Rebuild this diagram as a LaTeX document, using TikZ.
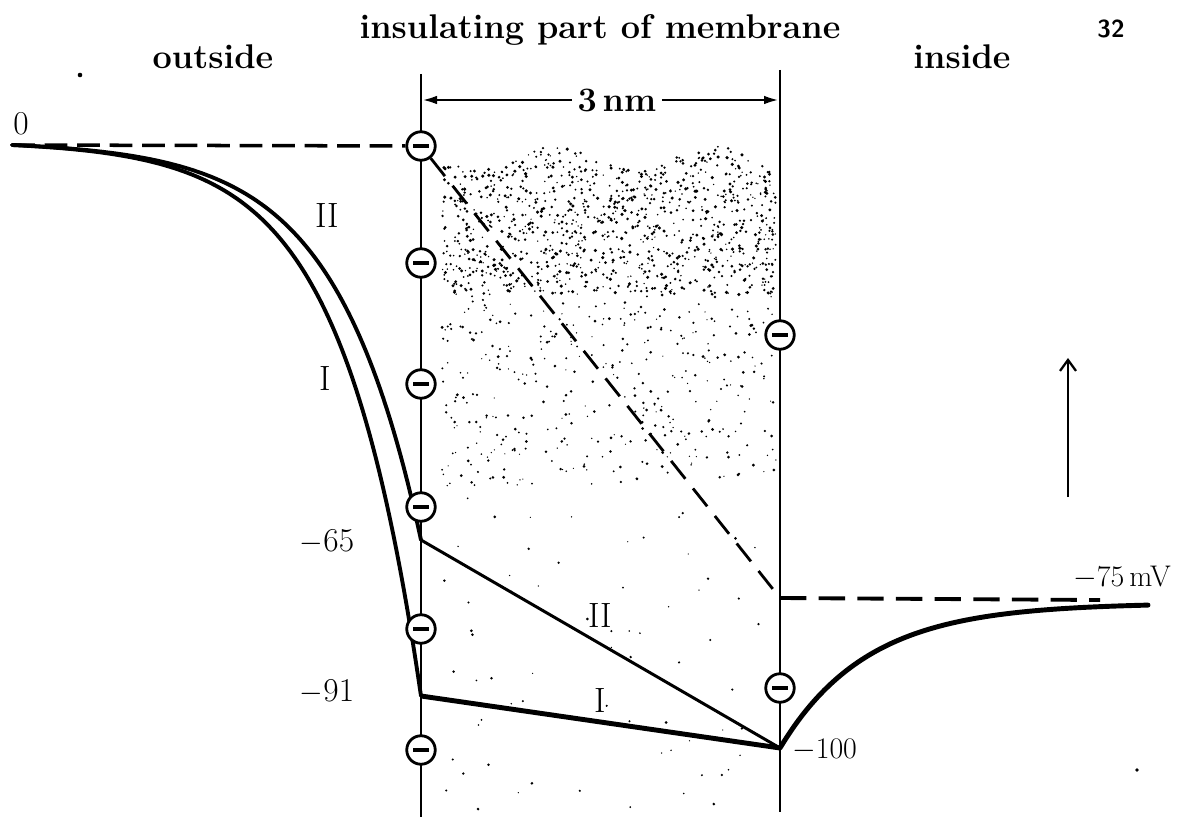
\documentclass[tikz,border=0pt]{standalone}
\usetikzlibrary{arrows.meta}
\begin{document}
\begin{tikzpicture}[x=0.02cm,y=-0.02cm,
  charge/.style={circle,draw,line width=1.6pt,fill=white,minimum size=0.57cm,inner sep=0pt,
    path picture={\draw[line width=1.9pt] ([xshift=-0.16cm]path picture bounding box.center)--([xshift=0.16cm]path picture bounding box.center);}},
  curve/.style={line width=2.2pt,line join=round,line cap=round},
  memb/.style={line width=1.3pt},
  lab/.style={font=\fontsize{19.5}{22}\selectfont\bfseries},
  num/.style={font=\fontsize{17}{20}\selectfont},
  bignum/.style={font=\fontsize{19}{22}\selectfont},
  roman/.style={font=\fontsize{20}{22}\selectfont},
  topdash/.style={line width=2pt,dash pattern=on 13pt off 5.5pt},
  diagdash/.style={line width=1.6pt,dash pattern=on 13pt off 7pt},
  rightdash/.style={line width=2.2pt,dash pattern=on 15pt off 7pt}
]
\useasboundingbox (0,0) rectangle (1180,817);
% stipple of the membrane interior
\pgfmathsetseed{42}
\foreach \i in {1,...,1100}{
  \pgfmathsetmacro\xx{442+rnd*334}
  \pgfmathsetmacro\tp{158+12*sin(2.3*(\xx-440))}
  \pgfmathsetmacro\yy{\tp+rnd*(295-\tp)}
  \pgfmathsetmacro\rr{0.4+0.6*rnd}
  \fill (\xx,\yy) circle[radius=\rr pt];
}
\foreach \i in {1,...,400}{
  \pgfmathsetmacro\xx{442+rnd*334}
  \pgfmathsetmacro\yy{295+rnd*190}
  \pgfmathsetmacro\rr{0.35+0.55*rnd}
  \fill (\xx,\yy) circle[radius=\rr pt];
}
\foreach \i in {1,...,70}{
  \pgfmathsetmacro\xx{442+rnd*334}
  \pgfmathsetmacro\yy{485+rnd*325}
  \pgfmathsetmacro\rr{0.35+0.5*rnd}
  \fill (\xx,\yy) circle[radius=\rr pt];
}
% specks
\fill (80,75) circle[radius=1.3pt];
\fill (1137,770) circle[radius=1.1pt];
% coordinates
\coordinate (Ltop) at (421,74);
\coordinate (Lbot) at (421,817);
\coordinate (Rtop) at (780,70);
\coordinate (Rbot) at (780,812);
\coordinate (z0) at (12,145);
\coordinate (j65) at (421,540);
\coordinate (j91) at (421,696);
\coordinate (m100) at (780,748);
\coordinate (v75) at (780,598);
\coordinate (dEnd) at (1100,600);
\coordinate (ua) at (1068,497);
\coordinate (ub) at (1068,358);
% membrane boundaries
\draw[memb] (Ltop) -- (Lbot);
\draw[memb] (Rtop) -- (Rbot);
% curves outside (II then I)
\draw[curve] plot[domain=12:421,samples=120] (\x,{145+395*(exp((\x-421)/85)-0.0082*(421-\x)/409)});
\draw[curve] plot[domain=12:421,samples=120] (\x,{145+551*(exp((\x-421)/80)-0.0060*(421-\x)/409)});
% inside curve
\draw[line width=2.8pt,line cap=round] plot[domain=780:1148,samples=100] (\x,{603+145*exp(-(\x-780)/87)});
% straight segments in membrane
\draw[line width=1.7pt] (j65) -- (m100);
\draw[line width=2.8pt] (j91) -- (m100);
\draw[rightdash] (v75) -- (dEnd);
% charges
\node[charge] (c1) at (421,146) {};
\node[charge] (c2) at (421,263) {};
\node[charge] (c3) at (421,384) {};
\node[charge] (c4) at (421,507) {};
\node[charge] (c5) at (421,629) {};
\node[charge] (c6) at (421,750) {};
\node[charge] (r1) at (780,335) {};
\node[charge] (r2) at (780,688) {};
% dashed lines
\draw[topdash] (z0) -- (c1);
\draw[diagdash] (c1) -- (v75);
% labels
\node[lab] (tmem) at (600,30) {insulating part of membrane};
\node[lab] (tout) at (213,57) {outside};
\node[lab] (tin) at (962,57) {inside};
\node[font=\sffamily\bfseries\fontsize{14}{14}\selectfont] (pg) at (1111,29) {32};
\node[lab,fill=white,inner xsep=3pt] (nm) at (617,100) {3\,nm};
\draw[line width=1.7pt,-{Latex[length=0.32cm,width=0.17cm]}] (nm.west) -- (Ltop |- nm.west);
\draw[line width=1.7pt,-{Latex[length=0.32cm,width=0.17cm]}] (nm.east) -- (Rtop |- nm.east);
\node[bignum] (l0) at (21,124) {0};
\node[roman] (oII) at (327,216) {II};
\node[roman] (oI) at (325,379) {I};
\node[bignum] (l65) at (327,542) {$-$65};
\node[bignum] (l91) at (327,692) {$-$91};
\node[roman] (iII) at (600,615) {II};
\node[roman] (iI) at (600,700) {I};
\node[num,anchor=west] (l100) at (786,750) {$-$100};
\node[num] (l75) at (1122,578) {$-$75\,mV};
\draw[line width=1.3pt,-{Straight Barb[length=0.22cm,width=0.32cm]}] (ua) -- (ub);
\end{tikzpicture}
\end{document}
